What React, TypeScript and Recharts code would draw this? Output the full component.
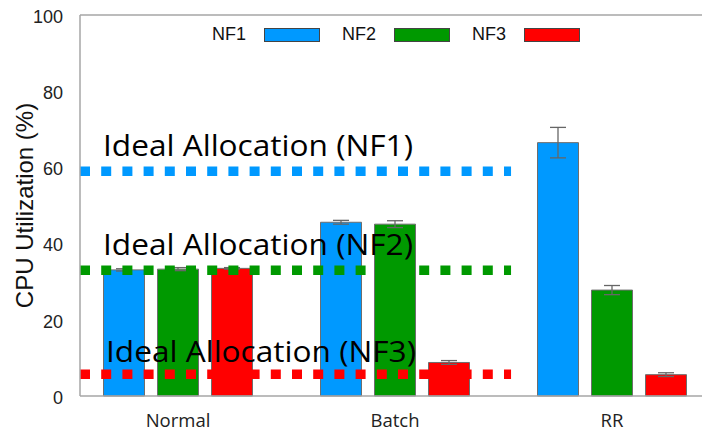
import React from "react";
import {
  BarChart,
  Bar,
  XAxis,
  YAxis,
  ErrorBar,
  ReferenceLine,
  Legend,
} from "recharts";

// workload scenarios on the x axis
const categories = ["Normal", "Batch", "RR"];

// CPU utilization (%) per network function, with error ranges
const nf1 = [33.1, 45.6, 66.5];
const nf1Err = [0.3, 0.5, 4];
const nf2 = [33.3, 45.1, 27.8];
const nf2Err = [0.4, 0.9, 1.2];
const nf3 = [33.5, 8.8, 5.6];
const nf3Err = [0.2, 0.5, 0.5];

// ideal share for each NF
const idealValues = [59, 33, 5.7];
const idealLabels = [
  "Ideal Allocation (NF1)",
  "Ideal Allocation (NF2)",
  "Ideal Allocation (NF3)",
];

const yTicks = [0, 20, 40, 60, 80, 100];

const seriesNames = ["NF1", "NF2", "NF3"];
const colors = ["#0099ff", "#009900", "#ff0000"];

const data = categories.map((name, i) => ({
  name,
  nf1: nf1[i],
  nf1Err: nf1Err[i],
  nf2: nf2[i],
  nf2Err: nf2Err[i],
  nf3: nf3[i],
  nf3Err: nf3Err[i],
}));

// hidden linear axis spanning the plot width (0..2), used to place the dashed lines
const LINE_DOMAIN: [number, number] = [0, 2];
const IDEAL_END = 1.386;
const labelOffsets = [
  { dx: 23, dy: -15.5 },
  { dx: 23, dy: -15 },
  { dx: 26, dy: -12.6 },
];

const AXIS_GRAY = "#a6a6a6";

function LegendRow() {
  return (
    <div
      style={{
        display: "flex",
        alignItems: "center",
        fontFamily: "'Liberation Sans', Arial, sans-serif",
        fontSize: 18,
        color: "#111",
      }}
    >
      {seriesNames.map((s, i) => (
        <div key={s} style={{ display: "flex", alignItems: "center", marginRight: 22 }}>
          <span style={{ width: 34 }}>{s}</span>
          <span
            style={{
              display: "inline-block",
              marginLeft: 18,
              width: 54,
              height: 12,
              background: colors[i],
              border: "1px solid #444",
            }}
          />
        </div>
      ))}
    </div>
  );
}

const IdealLabel = (idx: number) => (props: any) => {
  const vb = props.viewBox || {};
  return (
    <text
      x={vb.x + labelOffsets[idx].dx}
      y={vb.y + labelOffsets[idx].dy}
      fontFamily="'Open Sans', sans-serif"
      fontSize={30}
      fill="#000"
      textLength={310}
      lengthAdjust="spacingAndGlyphs"
    >
      {idealLabels[idx]}
    </text>
  );
};

export default function App() {
  return (
    <div
      style={{
        position: "absolute",
        left: 0,
        top: 0,
        width: 702,
        height: 432,
        background: "#fff",
      }}
    >
      <BarChart
        width={702}
        height={432}
        data={data}
        margin={{ top: 15, right: 0, bottom: 0, left: 0 }}
        barSize={41}
        barGap={13}
      >
        <XAxis
          dataKey="name"
          height={36}
          padding={{ left: -10.5, right: -18.5 }}
          axisLine={{ stroke: AXIS_GRAY, strokeWidth: 1.5 }}
          tickLine={false}
          tickSize={0}
          tickMargin={18}
          tick={{ fontSize: 18.5, fill: "#222", fontFamily: "'Open Sans', sans-serif" }}
        />
        <XAxis xAxisId="ideal" type="number" domain={LINE_DOMAIN} allowDataOverflow hide />
        <YAxis
          width={80}
          domain={[0, 100]}
          ticks={yTicks}
          interval={0}
          axisLine={{ stroke: AXIS_GRAY, strokeWidth: 1.5 }}
          tickLine={false}
          tickSize={0}
          tickMargin={17}
          tick={{ fontSize: 18, fill: "#222", fontFamily: "'Liberation Sans', Arial, sans-serif", dy: 1.5 }}
          label={{
            value: "CPU Utilization (%)",
            angle: -90,
            position: "center",
            dx: -16,
            style: { fontSize: 24, fill: "#111", fontFamily: "'Liberation Sans', Arial, sans-serif" },
          }}
        />
        <ReferenceLine y={100} stroke={AXIS_GRAY} strokeWidth={1.5} />
        <Legend
          layout="vertical"
          align="center"
          verticalAlign="middle"
          wrapperStyle={{ top: 24, left: 212, width: 420 }}
          content={() => <LegendRow />}
        />
        <Bar dataKey="nf1" name="NF1" fill={colors[0]} stroke="#6e6e6e" strokeWidth={1} isAnimationActive={false}>
          <ErrorBar dataKey="nf1Err" width={8} stroke="#666" strokeWidth={1.3} isAnimationActive={false} />
        </Bar>
        <Bar dataKey="nf2" name="NF2" fill={colors[1]} stroke="#6e6e6e" strokeWidth={1} isAnimationActive={false}>
          <ErrorBar dataKey="nf2Err" width={8} stroke="#666" strokeWidth={1.3} isAnimationActive={false} />
        </Bar>
        <Bar dataKey="nf3" name="NF3" fill={colors[2]} stroke="#6e6e6e" strokeWidth={1} isAnimationActive={false}>
          <ErrorBar dataKey="nf3Err" width={8} stroke="#666" strokeWidth={1.3} isAnimationActive={false} />
        </Bar>
        {idealValues.map((v, i) => (
          <ReferenceLine
            key={i}
            xAxisId="ideal"
            segment={[
              { x: 0, y: v },
              { x: IDEAL_END, y: v },
            ]}
            stroke={colors[i]}
            strokeWidth={9.5}
            strokeDasharray="10 11.2"
            label={IdealLabel(i)}
          />
        ))}
      </BarChart>
    </div>
  );
}
